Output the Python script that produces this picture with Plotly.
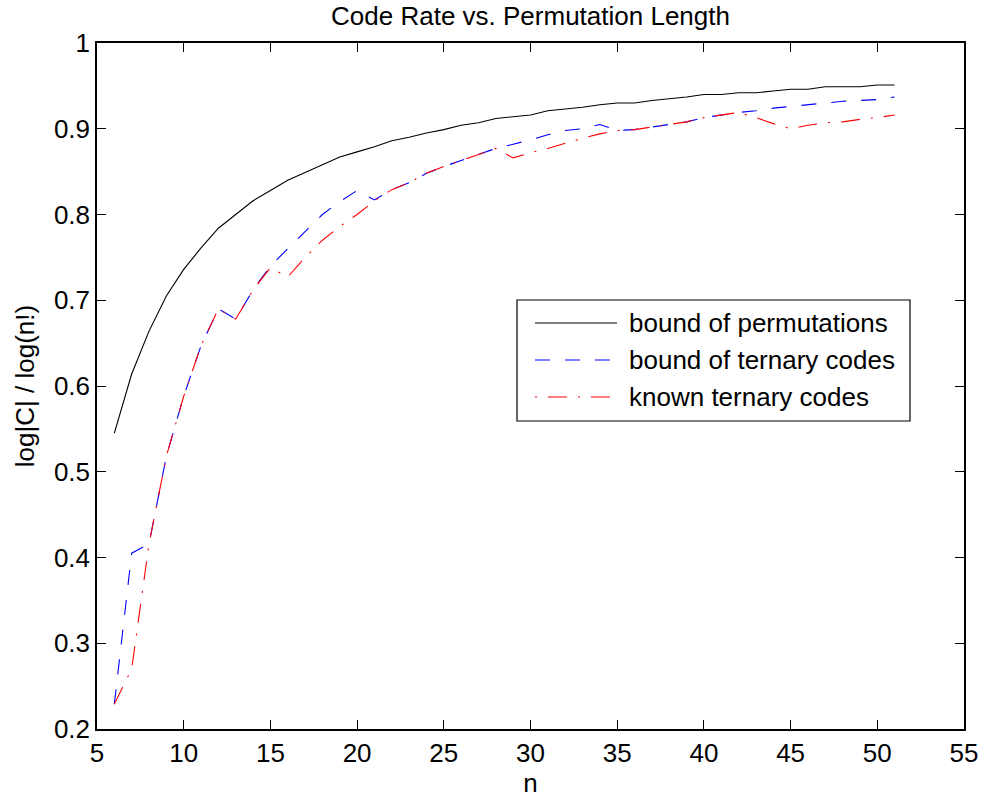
import plotly.graph_objects as go

# Permutation length
n = list(range(6, 52))

# Rate of the permutation-code bound
bound_perm = [
    0.545, 0.614, 0.664, 0.705, 0.736, 0.761, 0.784, 0.800, 0.816, 0.828,
    0.840, 0.849, 0.858, 0.867, 0.873, 0.879, 0.886, 0.890, 0.895, 0.899,
    0.904, 0.907, 0.912, 0.914, 0.916, 0.921, 0.923, 0.925, 0.928, 0.930,
    0.930, 0.933, 0.935, 0.937, 0.940, 0.940, 0.942, 0.942, 0.944, 0.946,
    0.946, 0.949, 0.949, 0.949, 0.951, 0.951,
]

# Rate of the ternary-code bound
bound_ternary = [
    0.229, 0.405, 0.416, 0.518, 0.588, 0.647, 0.690, 0.678, 0.712, 0.740,
    0.760, 0.780, 0.800, 0.815, 0.828, 0.817, 0.829, 0.837, 0.848, 0.856,
    0.863, 0.870, 0.877, 0.882, 0.887, 0.893, 0.898, 0.900, 0.905, 0.898,
    0.899, 0.902, 0.905, 0.908, 0.913, 0.916, 0.919, 0.921, 0.924, 0.926,
    0.928, 0.930, 0.932, 0.933, 0.934, 0.937,
]

# Rate of the known ternary codes
known_ternary = [
    0.229, 0.270, 0.416, 0.518, 0.588, 0.647, 0.690, 0.678, 0.712, 0.738,
    0.727, 0.750, 0.770, 0.786, 0.800, 0.816, 0.829, 0.837, 0.848, 0.856,
    0.863, 0.870, 0.877, 0.866, 0.872, 0.877, 0.883, 0.889, 0.894, 0.898,
    0.899, 0.902, 0.905, 0.908, 0.913, 0.916, 0.919, 0.913, 0.906, 0.900,
    0.904, 0.907, 0.908, 0.911, 0.913, 0.916,
]

series_names = ["bound of permutations", "bound of ternary codes", "known ternary codes"]

x_ticks = [5, 10, 15, 20, 25, 30, 35, 40, 45, 50, 55]
y_ticks = [0.2, 0.3, 0.4, 0.5, 0.6, 0.7, 0.8, 0.9, 1.0]
y_tick_text = ["0.2", "0.3", "0.4", "0.5", "0.6", "0.7", "0.8", "0.9", "1"]

FONT = "Liberation Sans, Arial, Helvetica, sans-serif"
FS = 26

W, H = 985, 799
ML, MR, MT, MB = 97, 21, 43, 70
PW, PH = W - ML - MR, H - MT - MB

styles = [
    dict(color="black", width=1.1),
    dict(color="blue", width=1.1, dash="15px,15px"),
    dict(color="red", width=1.1, dash="19px,11px,2px,11px"),
]
legend_dashes = ["solid", "15px,15px", "2px,11px,19px,11px"]


def px_x(p):
    return (p - ML) / PW


def px_y(p):
    return (H - MB - p) / PH


fig = go.Figure()
for name, ys, st in zip(series_names, [bound_perm, bound_ternary, known_ternary], styles):
    fig.add_trace(go.Scatter(x=n, y=ys, mode="lines", name=name, line=st,
                             showlegend=False))

# Boxed key in the middle-right of the axes
fig.add_shape(type="rect", xref="paper", yref="paper",
              x0=px_x(517), x1=px_x(910), y0=px_y(421), y1=px_y(300),
              line=dict(color="black", width=1.2), fillcolor="white", layer="above")
for i, (name, st, dsh) in enumerate(zip(series_names, styles, legend_dashes)):
    row_y = px_y(323 + 37 * i)
    fig.add_shape(type="line", xref="paper", yref="paper",
                  x0=px_x(535), x1=px_x(617), y0=row_y, y1=row_y,
                  line=dict(color=st["color"], width=1.1, dash=dsh), layer="above")
    fig.add_annotation(xref="paper", yref="paper", x=px_x(627), y=row_y,
                       xanchor="left", yanchor="middle", text=name, showarrow=False,
                       font=dict(family=FONT, size=FS, color="black"))

axis_common = dict(
    showline=True, linecolor="black", linewidth=1.5, mirror="ticks",
    ticks="inside", ticklen=9, tickwidth=1.2, tickcolor="black",
    showgrid=False, zeroline=False, automargin=False,
    tickfont=dict(family=FONT, size=FS, color="black"),
)

fig.update_xaxes(
    range=[5, 55], tickvals=x_ticks,
    title=dict(text="n", font=dict(family=FONT, size=FS, color="black"), standoff=7),
    **axis_common,
)
fig.update_yaxes(
    range=[0.2, 1.0], tickvals=y_ticks, ticktext=y_tick_text,
    title=dict(text="log|C| / log(n!)", font=dict(family=FONT, size=FS, color="black"), standoff=12),
    **axis_common,
)

fig.update_layout(
    width=W, height=H,
    margin=dict(l=ML, r=MR, t=MT, b=MB, autoexpand=False),
    paper_bgcolor="white", plot_bgcolor="white",
    font=dict(family=FONT, color="black"),
    title=dict(
        text="Code Rate vs. Permutation Length",
        font=dict(family=FONT, size=FS, color="black"),
        x=(ML + W - MR) / 2 / W, xanchor="center",
        y=1 - 16 / H, yanchor="middle",
    ),
    showlegend=False,
)

fig.write_html("out.html")
